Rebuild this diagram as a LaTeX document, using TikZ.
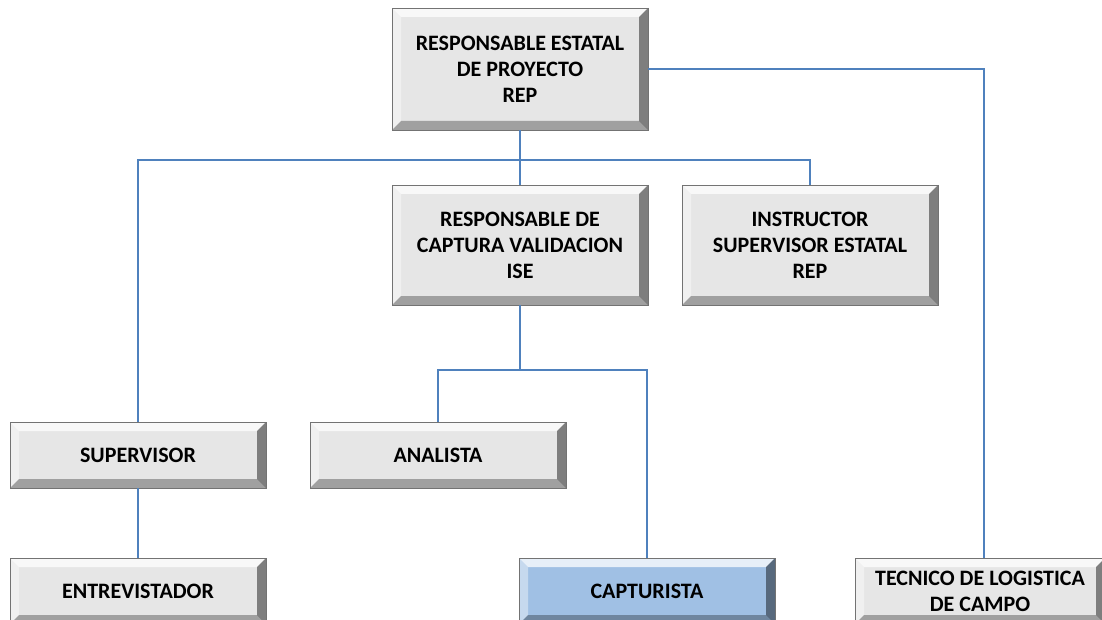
\documentclass[tikz,border=0pt]{standalone}
\usepackage{fontspec}
\setmainfont{Carlito}
\usetikzlibrary{positioning}
\definecolor{linea}{RGB}{79,129,189}
\definecolor{cara}{RGB}{230,230,230}
\definecolor{azul}{RGB}{160,192,228}
\tikzset{puesto/.style={draw=black!55,fill=cara,minimum width=256pt,minimum height=66pt,inner sep=0pt,align=center,
    font=\fontsize{22}{26}\selectfont\bfseries,
    path picture={
      \fill[white,opacity=.75] (path picture bounding box.north west) -- (path picture bounding box.north east)
        -- ([shift={(-9pt,-9pt)}]path picture bounding box.north east) -- ([shift={(9pt,-9pt)}]path picture bounding box.north west) -- cycle;
      \fill[white,opacity=.4] (path picture bounding box.north west) -- (path picture bounding box.south west)
        -- ([shift={(9pt,9pt)}]path picture bounding box.south west) -- ([shift={(9pt,-9pt)}]path picture bounding box.north west) -- cycle;
      \fill[black,opacity=.45] (path picture bounding box.north east) -- (path picture bounding box.south east)
        -- ([shift={(-9pt,9pt)}]path picture bounding box.south east) -- ([shift={(-9pt,-9pt)}]path picture bounding box.north east) -- cycle;
      \fill[black,opacity=.3] (path picture bounding box.south west) -- (path picture bounding box.south east)
        -- ([shift={(-9pt,9pt)}]path picture bounding box.south east) -- ([shift={(9pt,9pt)}]path picture bounding box.south west) -- cycle;
    }},
  enlace/.style={draw=linea,line width=1.3pt}}

\begin{document}
\begin{tikzpicture}[x=1pt,y=-1pt]
    \clip (0,0) rectangle (1102,620);
    \fill[white] (0,0) rectangle (1102,620);

    \node[puesto,minimum height=122pt] (rep)at (520,69) {RESPONSABLE ESTATAL\\DE PROYECTO\\REP};
    \node[puesto,minimum height=120pt] (ise)at (520,245) {RESPONSABLE DE\\CAPTURA VALIDACION\\ISE};
    \node[puesto,minimum height=120pt] (ins)at (810,245) {INSTRUCTOR\\SUPERVISOR ESTATAL\\REP};
    \node[puesto] (sup)at (138,455) {SUPERVISOR};
    \node[puesto] (ana)at (438,455) {ANALISTA};
    \node[puesto] (ent)at (138,591) {ENTREVISTADOR};
    \node[puesto,fill=azul] (cap)at (647,591) {CAPTURISTA};
    \node[puesto,minimum width=250pt] (tec)at (980,591) {TECNICO DE LOGISTICA\\DE CAMPO};

    \coordinate (barra) at (520,160);
    \coordinate (barra2) at (520,370);
    \coordinate (codo) at (984,69);

    \draw [enlace] (rep) -- (ise);
    \draw [enlace] (sup.north) |- (barra) -| (ins.north);
    \draw [enlace] (rep.east) -- (codo) -- (codo |- tec.north);
    \draw [enlace] (ise.south) -- (barra2);
    \draw [enlace] (ana.north) |- (barra2) -| (cap.north);
    \draw [enlace] (sup) -- (ent);
\end{tikzpicture}
\end{document}
